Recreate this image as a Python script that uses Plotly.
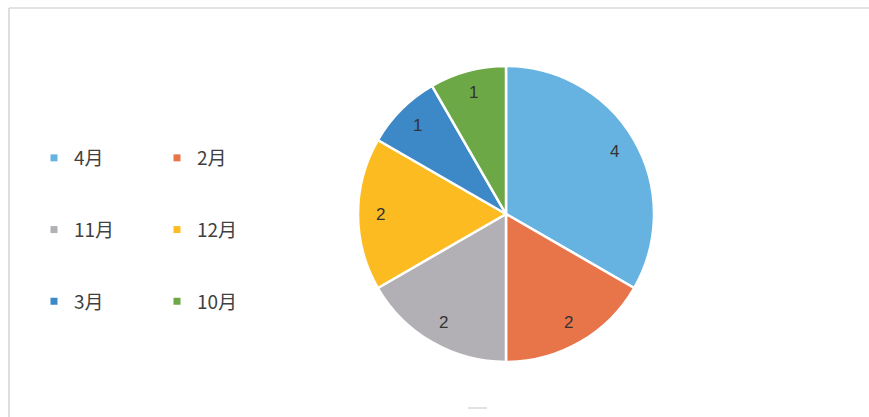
import math
import plotly.graph_objects as go

labels = ["4月", "2月", "11月", "12月", "3月", "10月"]
values = [4, 2, 2, 2, 1, 1]
colors = ["#66B3E2", "#E8744A", "#B2B0B4", "#FDBB22", "#3D88C6", "#6CA946"]

# legend layout: two columns
col1 = ["4月", "11月", "3月"]
col2 = ["2月", "12月", "10月"]

W, H = 869, 417
cx, cy, r = 506, 214, 148
label_frac = 0.85

fig = go.Figure()
fig.add_trace(go.Pie(
    labels=labels, values=values, sort=False, direction="clockwise", rotation=0,
    marker=dict(colors=colors, line=dict(color="white", width=2.5)),
    textinfo="none",
    showlegend=False, hoverinfo="label+value",
    domain=dict(x=[(cx - r) / W, (cx + r) / W], y=[1 - (cy + r) / H, 1 - (cy - r) / H]),
))

# value labels placed at the middle angle of each slice
total = sum(values)
annotations = []
cum = 0
for v in values:
    mid = (cum + v / 2) / total * 2 * math.pi
    cum += v
    px = cx + label_frac * r * math.sin(mid)
    py = cy - label_frac * r * math.cos(mid)
    annotations.append(dict(x=px / W, y=1 - py / H, xref="paper", yref="paper",
                            xanchor="center", yanchor="middle",
                            text=str(v), showarrow=False,
                            font=dict(family="Liberation Sans, Arial", size=17, color="#333333")))

cmap = dict(zip(labels, colors))
for lab in col1:
    fig.add_trace(go.Scatter(x=[None], y=[None], mode="markers", name=lab,
                             marker=dict(symbol="square", size=7, color=cmap[lab]),
                             legend="legend", legendgroup=lab))
for lab in col2:
    fig.add_trace(go.Scatter(x=[None], y=[None], mode="markers", name=lab,
                             marker=dict(symbol="square", size=7, color=cmap[lab]),
                             legend="legend2", legendgroup=lab))

legfont = dict(family="Noto Sans CJK JP", size=19, color="#404040")
common = dict(font=legfont, bgcolor="rgba(0,0,0,0)", traceorder="grouped",
              tracegroupgap=44, itemwidth=30, yanchor="top", xanchor="left")

fig.update_layout(
    width=W, height=H,
    margin=dict(l=0, r=0, t=0, b=0),
    paper_bgcolor="white", plot_bgcolor="white",
    xaxis=dict(visible=False), yaxis=dict(visible=False),
    legend=dict(x=34 / W, y=1 - 139 / H, **common),
    legend2=dict(x=157 / W, y=1 - 139 / H, **common),
    annotations=annotations,
    shapes=[
        dict(type="line", xref="paper", yref="paper",
             x0=9 / W, x1=1, y0=1 - 8 / H, y1=1 - 8 / H,
             line=dict(color="#C8C8C8", width=1.2)),
        dict(type="line", xref="paper", yref="paper",
             x0=9 / W, x1=9 / W, y0=0, y1=1 - 8 / H,
             line=dict(color="#C8C8C8", width=1.2)),
        dict(type="line", xref="paper", yref="paper",
             x0=468 / W, x1=487 / W, y0=1 - 408 / H, y1=1 - 408 / H,
             line=dict(color="#D8D8D8", width=1.5)),
    ],
)

fig.write_html("out.html", config={"displayModeBar": False},
               post_script=("document.body.style.margin='0';"
                            "document.body.style.overflow='hidden';"
                            "document.documentElement.style.overflow='hidden';"))
